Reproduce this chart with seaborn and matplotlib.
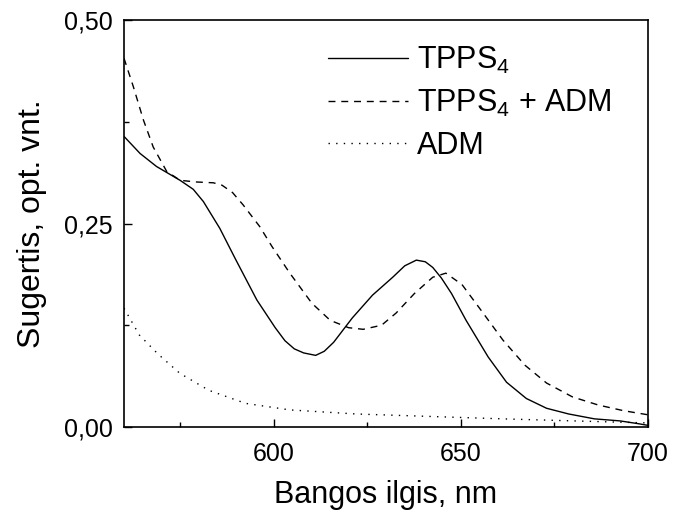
import numpy as np
import pandas as pd
import matplotlib
matplotlib.use("Agg")
import matplotlib.pyplot as plt
import seaborn as sns
from matplotlib.ticker import FixedLocator, FuncFormatter

# --- data ---
tpps_x = [560, 564.3, 568.7, 575, 578.5, 581.2, 585.6, 589.7, 595.5, 600.4, 603, 605.5, 608, 611.2,
          613.5, 616, 621, 626.4, 631.8, 635, 638.1, 640.5, 642.5, 644.8, 647.5, 651.4, 657.3, 662.2,
          667.5, 672.9, 678.8, 685.7, 692.5, 697.5, 700]
tpps_y = [0.357, 0.336, 0.320, 0.303, 0.292, 0.277, 0.244, 0.207, 0.156, 0.122, 0.106, 0.096, 0.091, 0.088,
          0.093, 0.104, 0.134, 0.162, 0.184, 0.198, 0.205, 0.203, 0.196, 0.183, 0.164, 0.131, 0.086, 0.055,
          0.035, 0.023, 0.016, 0.010, 0.0075, 0.004, 0.002]

mix_x = [560, 562.5, 565.2, 567.8, 571.4, 575, 579.4, 583.9, 586.2, 589, 591.8, 596.3, 599.5,
         604.3, 610.2, 615.1, 620, 623.9, 628.8, 632.7, 637.6, 642.5, 646, 650.3, 655.3,
         661.2, 667.1, 672.9, 679.8, 686.7, 693.5, 700]
mix_y = [0.453, 0.418, 0.377, 0.344, 0.314, 0.303, 0.301, 0.300, 0.297, 0.288, 0.273, 0.246, 0.222,
         0.189, 0.152, 0.131, 0.122, 0.120, 0.125, 0.140, 0.164, 0.184, 0.189, 0.175, 0.144,
         0.107, 0.076, 0.054, 0.037, 0.027, 0.020, 0.015]

adm_x = [560, 564.1, 569, 574.9, 582.7, 592.5, 604.3, 622, 641.6, 661.2, 680.8, 700]
adm_y = [0.146, 0.113, 0.090, 0.066, 0.045, 0.029, 0.021, 0.016, 0.013, 0.010, 0.0074, 0.005]

labels = ["TPPS$_4$", "TPPS$_4$ + ADM", "ADM"]
x_ticks = [600, 650, 700]
y_ticks = [0.0, 0.25, 0.5]
x_label = "Bangos ilgis, nm"
y_label = "Sugertis, opt. vnt."

# --- style ---
sns.set_style("ticks")
plt.rcParams['font.family'] = ['Liberation Sans', 'DejaVu Sans']
plt.rcParams['mathtext.fontset'] = 'custom'
plt.rcParams['mathtext.rm'] = 'Liberation Sans'
plt.rcParams['mathtext.it'] = 'Liberation Sans'
plt.rcParams['text.color'] = 'black'
plt.rcParams['axes.labelcolor'] = 'black'

fig = plt.figure(figsize=(6.73, 5.16), dpi=100)
ax = fig.add_axes([124/673, 1 - 427/516, (648-124)/673, (427-20)/516])

df = pd.concat([
    pd.DataFrame({"x": tpps_x, "y": tpps_y, "s": labels[0]}),
    pd.DataFrame({"x": mix_x, "y": mix_y, "s": labels[1]}),
    pd.DataFrame({"x": adm_x, "y": adm_y, "s": labels[2]}),
])

styles = {labels[0]: "-", labels[1]: (0, (5, 4.2)), labels[2]: (0, (1, 4.5))}
for lab in labels:
    sub = df[df.s == lab]
    sns.lineplot(data=sub, x="x", y="y", ax=ax, color="black", lw=1.0,
                 linestyle=styles[lab], label=lab, estimator=None, sort=False)

ax.set_xlim(560, 700)
ax.set_ylim(0, 0.5)
ax.xaxis.set_major_locator(FixedLocator(x_ticks))
ax.xaxis.set_minor_locator(FixedLocator([575, 625, 675]))
ax.yaxis.set_major_locator(FixedLocator(y_ticks))
ax.yaxis.set_minor_locator(FixedLocator([0.125, 0.375]))
ax.yaxis.set_major_formatter(FuncFormatter(lambda v, p: f"{v:.2f}".replace(".", ",")))

ax.tick_params(which="both", direction="in", width=1.0, colors="black",
               labelsize=18, top=False, right=False)
ax.tick_params(axis="x", which="major", length=6, pad=11)
ax.tick_params(axis="y", which="major", length=6, pad=8)
ax.tick_params(which="minor", length=3.5)
for s in ax.spines.values():
    s.set_linewidth(1.2)
    s.set_visible(True)
    s.set_color("black")

ax.set_xlabel(x_label, fontsize=22, labelpad=10)
ax.set_ylabel(y_label, fontsize=23, labelpad=12)

leg = ax.legend(loc="upper left", bbox_to_anchor=(0.39, 0.94), frameon=False,
                fontsize=22, handlelength=2.6, handletextpad=0.3, labelspacing=0.4,
                borderpad=0.0, borderaxespad=0.0)
for line in leg.get_lines():
    line.set_linewidth(1.0)

fig.savefig("out.png", dpi=100)
